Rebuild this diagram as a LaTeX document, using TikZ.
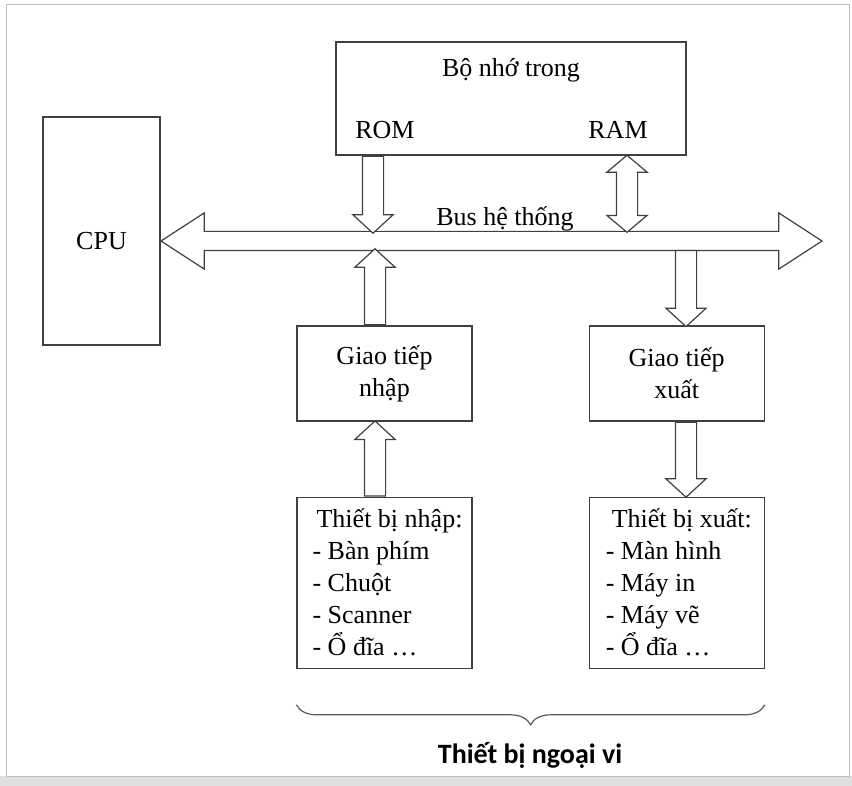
\documentclass[tikz,border=0pt]{standalone}
\usepackage{fontspec}
\setmainfont{Liberation Serif}
\newfontfamily\calibrifont{Carlito}
\usetikzlibrary{shapes.arrows, positioning, calc, decorations.pathreplacing}
\tikzstyle{box} = [draw=black!75, line width=1.2pt, rectangle, fill=white, align=center, inner sep=0pt]
\tikzstyle{listtext} = [align=left, inner sep=0pt]
\tikzstyle{fat} = [draw=black!75, line width=1.2pt, fill=white, single arrow, inner sep=10pt, single arrow head extend=9.5pt, single arrow tip angle=95, anchor=tail]
\tikzstyle{fatboth} = [draw=black!75, line width=1.2pt, fill=white, double arrow, inner sep=10pt, double arrow head extend=9.5pt, double arrow tip angle=100]
\tikzstyle{brace} = [draw=black!65, line width=1.2pt, decorate, decoration={brace, mirror, amplitude=20pt}]

\begin{document}
\begin{tikzpicture}[x=1pt, y=-1pt, font=\fontsize{26}{32}\selectfont]
	\useasboundingbox (0,0) rectangle (852,786);
	\fill[black!12] (0,776) rectangle (852,786);
	\draw[black!25, line width=1pt] (6,5) rectangle (849,776);

	\node [box, minimum width=117pt, minimum height=228pt] (cpu) at (101.5,231) {};
	\node [box, minimum width=350pt, minimum height=113pt] (mem) at (511,98.5) {};
	\node (memname) at (511,70) {Bộ nhớ trong};
	\node (rom) at (385,130) {ROM};
	\node (ram) at (618,130) {RAM};

	\node [fatboth, inner sep=9pt, double arrow head extend=18.5pt, double arrow tip angle=66, minimum height=661pt] (bus) at (491.5,241) {};
	\node at (cpu |- bus) {CPU};
	\node (busname) at (505,219) {Bus hệ thống};

	\node [box, minimum width=175pt, minimum height=95pt] (gin) at (384.5,373.5) {Giao tiếp\\nhập};
	\node [box, minimum width=175pt, minimum height=95pt, right=116pt of gin] (gout) {Giao tiếp\\xuất};
	\node [box, minimum width=175pt, minimum height=171pt, below=75pt of gin] (devin) {};
	\node [box, minimum width=175pt, minimum height=171pt, below=75pt of gout] (devout) {};
	\node [listtext, right=16pt of devin.west] (inlist) {\hspace*{4pt}Thiết bị nhập:\\- Bàn phím\\- Chuột\\- Scanner\\- Ổ đĩa …};
	\node [listtext, right=17pt of devout.west] (outlist) {\hspace*{6pt}Thiết bị xuất:\\- Màn hình\\- Máy in\\- Máy vẽ\\- Ổ đĩa …};

	\coordinate (romcol) at (373,0);
	\coordinate (ramcol) at (627,0);
	\coordinate (incol) at (375,0);
	\coordinate (outcol) at (686,0);
	\coordinate (bustop) at (0,232);
	\coordinate (busbot) at (0,250);

	\node [fat, shape border rotate=270, minimum height=77pt] (romarrow) at (romcol |- mem.south) {};
	\node [fatboth, shape border rotate=90, minimum height=77pt] (ramarrow) at ($(ramcol |- mem.south)!.5!(ramcol |- bustop)$) {};
	\node [fat, shape border rotate=90, minimum height=76pt] (ginarrow) at (incol |- gin.north) {};
	\node [fat, shape border rotate=270, minimum height=76pt] (goutarrow) at (outcol |- busbot) {};
	\node [fat, shape border rotate=90, minimum height=75pt] (devinarrow) at (incol |- devin.north) {};
	\node [fat, shape border rotate=270, minimum height=75pt] (devoutarrow) at (outcol |- gout.south) {};

	\draw [brace] ([yshift=-36pt]devin.south west) -- ([yshift=-36pt]devout.south east) coordinate [midway] (bracemid);
	\node (periph) at (530,755) {\calibrifont\bfseries\fontsize{28}{32}\selectfont Thiết bị ngoại vi};
\end{tikzpicture}
\end{document}
